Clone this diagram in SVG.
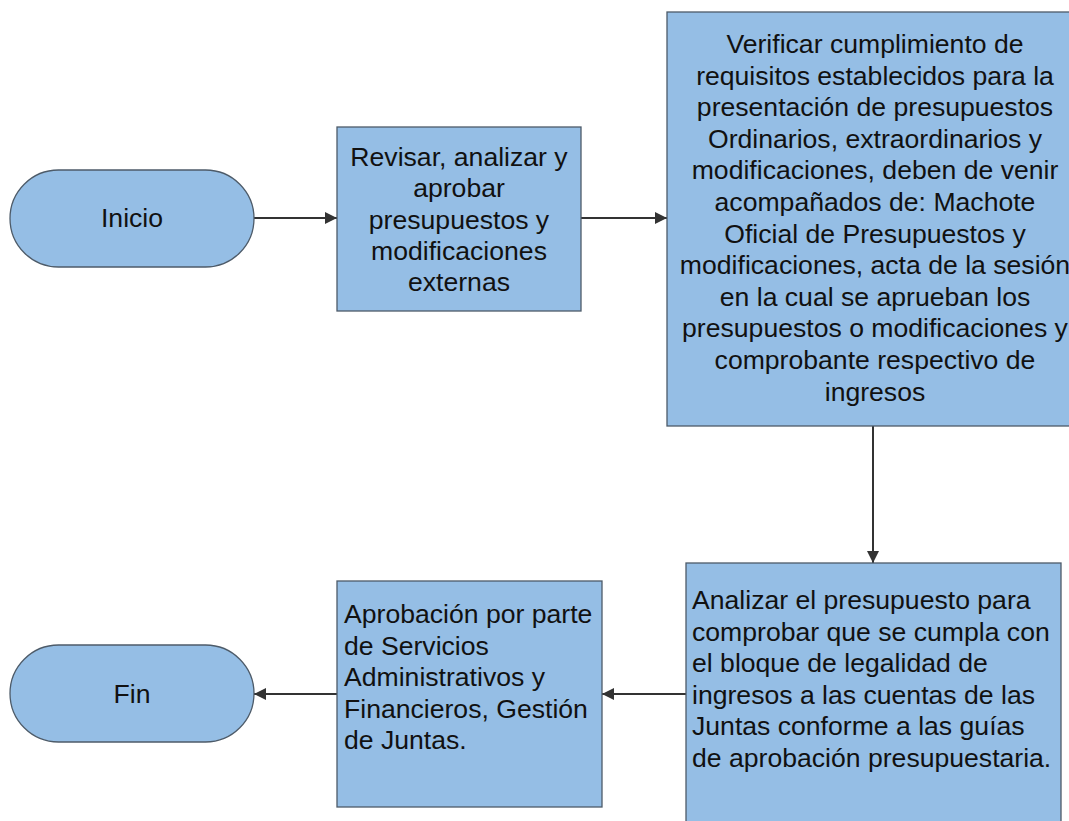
<svg xmlns="http://www.w3.org/2000/svg" width="1069" height="821" viewBox="0 0 1069 821">
<defs>
<style>
.box{fill:#95bee5;stroke:#4d5b69;stroke-width:1.3}
.t{font-family:"Liberation Sans",Arial,sans-serif;font-size:26.6px;fill:#111}
.c{text-anchor:middle}
.ln{stroke:#333;stroke-width:2;fill:none}
</style>
<marker id="ah" viewBox="0 0 12 12" refX="12" refY="6" markerWidth="12" markerHeight="12" markerUnits="userSpaceOnUse" orient="auto">
<path d="M0,0 L12,6 L0,12 Z" fill="#333"/>
</marker>
</defs>
<rect width="1069" height="821" fill="#fff"/>
<g id="connectors">
<line class="ln" x1="254" y1="218" x2="337" y2="218" marker-end="url(#ah)"/>
<line class="ln" x1="581" y1="218" x2="667" y2="218" marker-end="url(#ah)"/>
<line class="ln" x1="873" y1="426" x2="873" y2="563" marker-end="url(#ah)"/>
<line class="ln" x1="686" y1="694" x2="602" y2="694" marker-end="url(#ah)"/>
<line class="ln" x1="337" y1="694" x2="254" y2="694" marker-end="url(#ah)"/>
</g>
<g id="inicio">
<rect class="box" x="10" y="170" width="244" height="97" rx="48.5" ry="48.5"/>
<text class="t c" x="132" y="227">Inicio</text>
</g>
<g id="revisar">
<rect class="box" x="337" y="127" width="244" height="184"/>
<text class="t c" x="459"><tspan x="459" y="166">Revisar, analizar y</tspan><tspan x="459" y="197">aprobar</tspan><tspan x="459" y="229">presupuestos y</tspan><tspan x="459" y="260">modificaciones</tspan><tspan x="459" y="291">externas</tspan></text>
</g>
<g id="verificar">
<rect class="box" x="667" y="12" width="412" height="414"/>
<text class="t c"><tspan x="875" y="53">Verificar cumplimiento de</tspan><tspan x="875" y="84.6">requisitos establecidos para la</tspan><tspan x="875" y="116.2">presentación de presupuestos</tspan><tspan x="875" y="147.8">Ordinarios, extraordinarios y</tspan><tspan x="875" y="179.4">modificaciones, deben de venir</tspan><tspan x="875" y="211">acompañados de: Machote</tspan><tspan x="875" y="242.6">Oficial de Presupuestos y</tspan><tspan x="875" y="274.2">modificaciones, acta de la sesión</tspan><tspan x="875" y="305.8">en la cual se aprueban los</tspan><tspan x="875" y="337.4">presupuestos o modificaciones y</tspan><tspan x="875" y="369">comprobante respectivo de</tspan><tspan x="875" y="400.6">ingresos</tspan></text>
</g>
<g id="analizar">
<rect class="box" x="686" y="563" width="375" height="270"/>
<text class="t"><tspan x="692" y="609">Analizar el presupuesto para</tspan><tspan x="692" y="640.5">comprobar que se cumpla con</tspan><tspan x="692" y="672">el bloque de legalidad de</tspan><tspan x="692" y="703.5">ingresos a las cuentas de las</tspan><tspan x="692" y="735">Juntas conforme a las guías</tspan><tspan x="692" y="766.5">de aprobación presupuestaria.</tspan></text>
</g>
<g id="aprobacion">
<rect class="box" x="337" y="581" width="265" height="226"/>
<text class="t"><tspan x="344" y="623">Aprobación por parte</tspan><tspan x="344" y="654.5">de Servicios</tspan><tspan x="344" y="686">Administrativos y</tspan><tspan x="344" y="717.5">Financieros, Gestión</tspan><tspan x="344" y="749">de Juntas.</tspan></text>
</g>
<g id="fin">
<rect class="box" x="10" y="645" width="244" height="97" rx="48.5" ry="48.5"/>
<text class="t c" x="132" y="703">Fin</text>
</g>
</svg>
